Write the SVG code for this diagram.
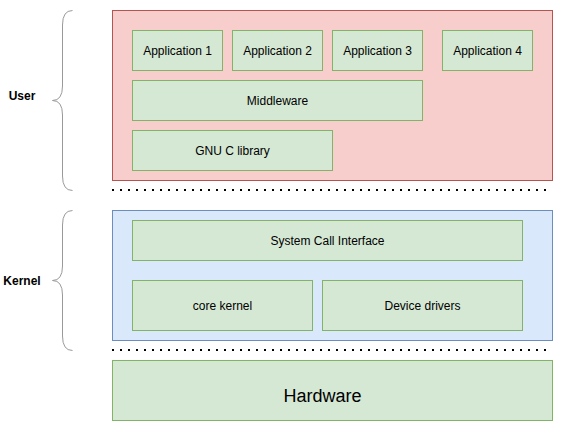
<svg xmlns="http://www.w3.org/2000/svg" width="561" height="429" viewBox="0 0 561 429">
<style>
.g{fill:#d5e8d4;stroke:#82b366;stroke-width:1}
.t{font-family:"Liberation Sans",Arial,sans-serif;font-size:12px;fill:#000;text-anchor:middle;dominant-baseline:central}
.lbl{font-family:"Liberation Sans",Arial,sans-serif;font-size:12px;font-weight:bold;fill:#000;text-anchor:middle;dominant-baseline:central}
.br{fill:none;stroke:#999999;stroke-width:1}
.dot{fill:none;stroke:#000;stroke-width:2;stroke-dasharray:2 6}
</style>
<rect width="561" height="429" fill="#ffffff"/>
<g id="user-layer">
<rect x="112.5" y="10.5" width="440" height="170" fill="#f8cecc" stroke="#b85450"/>
</g>
<g id="kernel-layer">
<rect x="112.5" y="210.5" width="440" height="130" fill="#dae8fc" stroke="#6c8ebf"/>
</g>
<g id="app1"><rect class="g" x="132.5" y="30.5" width="90" height="40"/><text class="t" x="177.5" y="50.5">Application 1</text></g>
<g id="app2"><rect class="g" x="232.5" y="30.5" width="90" height="40"/><text class="t" x="277.5" y="50.5">Application 2</text></g>
<g id="app3"><rect class="g" x="332.5" y="30.5" width="90" height="40"/><text class="t" x="377.5" y="50.5">Application 3</text></g>
<g id="app4"><rect class="g" x="442.5" y="30.5" width="90" height="40"/><text class="t" x="487.5" y="50.5">Application 4</text></g>
<g id="middleware"><rect class="g" x="132.5" y="80.5" width="290" height="40"/><text class="t" x="277.5" y="100.5">Middleware</text></g>
<g id="glibc"><rect class="g" x="132.5" y="130.5" width="200" height="40"/><text class="t" x="232.5" y="150.5">GNU C library</text></g>
<g id="syscall"><rect class="g" x="132.5" y="220.5" width="390" height="40"/><text class="t" x="327.5" y="240.5">System Call Interface</text></g>
<g id="core-kernel"><rect class="g" x="132.5" y="280.5" width="180" height="50"/><text class="t" x="222.5" y="305.5">core kernel</text></g>
<g id="device-drivers"><rect class="g" x="322.5" y="280.5" width="200" height="50"/><text class="t" x="422.5" y="305.5">Device drivers</text></g>
<g id="hardware"><rect class="g" x="112.5" y="360.5" width="440" height="60"/><text class="t" x="322.5" y="396" style="font-size:18px">Hardware</text></g>
<g id="user-brace"><path class="br" d="M72.5,10.5 Q62.5,10.5 62.5,25 L62.5,86 Q62.5,100.5 52.5,100.5 Q62.5,100.5 62.5,115 L62.5,176 Q62.5,190.5 72.5,190.5"/><text class="lbl" x="22" y="96">User</text></g>
<g id="kernel-brace"><path class="br" d="M72.5,210.5 Q62.5,210.5 62.5,225 L62.5,266 Q62.5,280.5 52.5,280.5 Q62.5,280.5 62.5,295 L62.5,336 Q62.5,350.5 72.5,350.5"/><text class="lbl" x="22" y="281">Kernel</text></g>
<g id="connectors">
<line class="dot" x1="112" y1="190" x2="548" y2="190"/>
<line class="dot" x1="112" y1="350" x2="548" y2="350"/>
</g>
</svg>
